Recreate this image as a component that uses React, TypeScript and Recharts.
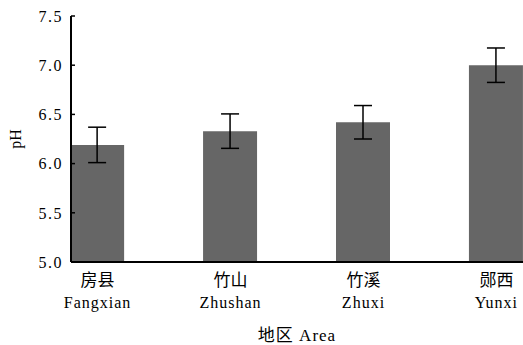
import { BarChart, Bar, XAxis, YAxis, ErrorBar, Label } from "recharts"

const regionsZh = ["房县", "竹山", "竹溪", "郧西"]
const regionsEn = ["Fangxian", "Zhushan", "Zhuxi", "Yunxi"]
const phMeans = [6.19, 6.33, 6.42, 7.0]
const phErrors = [0.18, 0.175, 0.17, 0.175]
const yTicks = [5.0, 5.5, 6.0, 6.5, 7.0, 7.5]

const data = regionsZh.map((name, i) => ({
  idx: i,
  name,
  ph: phMeans[i],
  err: phErrors[i],
}))

const serif = "'Liberation Serif', 'Noto Sans CJK SC', serif"

const Y_TICK_SIZE = 8

function YTick(props: any) {
  const { x, y, payload } = props
  const axisX = x + Y_TICK_SIZE
  return (
    <g>
      <line x1={axisX} x2={axisX + 4} y1={y} y2={y} stroke="#000" strokeWidth={1.5} />
      <text
        x={x}
        y={y}
        dy="0.36em"
        textAnchor="end"
        fontFamily={serif}
        fontSize={16}
        letterSpacing={1.5}
        fill="#000"
      >
        {Number(payload.value).toFixed(1)}
      </text>
    </g>
  )
}

function XTick(props: any) {
  const { x, y, payload } = props
  const i = payload.value as number
  return (
    <g>
      <text x={x} y={y + 16} textAnchor="middle" fontFamily={serif} fontSize={17} fill="#000">
        {regionsZh[i]}
      </text>
      <text
        x={x}
        y={y + 38}
        textAnchor="middle"
        fontFamily={serif}
        fontSize={16}
        letterSpacing={1}
        fill="#000"
      >
        {regionsEn[i]}
      </text>
    </g>
  )
}

export default function App() {
  return (
    <div style={{ position: "absolute", left: 0, top: 0, background: "#fff" }}>
      <BarChart
        width={523}
        height={345}
        data={data}
        margin={{ top: 16, right: 0, bottom: 0, left: 0 }}
      >
        <XAxis
          dataKey="idx"
          type="number"
          domain={[-0.2, 3.2]}
          ticks={[0, 1, 2, 3]}
          allowDataOverflow
          tickLine={false}
          axisLine={{ stroke: "#000", strokeWidth: 2 }}
          height={83}
          tick={<XTick />}
          interval={0}
        >
          <Label
            value="地区 Area"
            position="insideBottom"
            offset={4}
            fontFamily={serif}
            fontSize={17}
            letterSpacing={1}
            fill="#000"
          />
        </XAxis>
        <YAxis
          domain={[5, 7.5]}
          ticks={yTicks}
          interval={0}
          width={71}
          tickSize={Y_TICK_SIZE}
          tickMargin={0}
          tickLine={false}
          axisLine={{ stroke: "#000", strokeWidth: 2 }}
          tick={<YTick />}
          allowDataOverflow
        >
          <Label
            value="pH"
            angle={-90}
            position="insideLeft"
            offset={15}
            fontFamily={serif}
            fontSize={16}
            fill="#000"
            style={{ textAnchor: "middle" }}
          />
        </YAxis>
        <Bar dataKey="ph" fill="#666666" barSize={54} isAnimationActive={false}>
          <ErrorBar
            dataKey="err"
            direction="y"
            width={9}
            stroke="#000"
            strokeWidth={1.5}
            isAnimationActive={false}
          />
        </Bar>
      </BarChart>
    </div>
  )
}
